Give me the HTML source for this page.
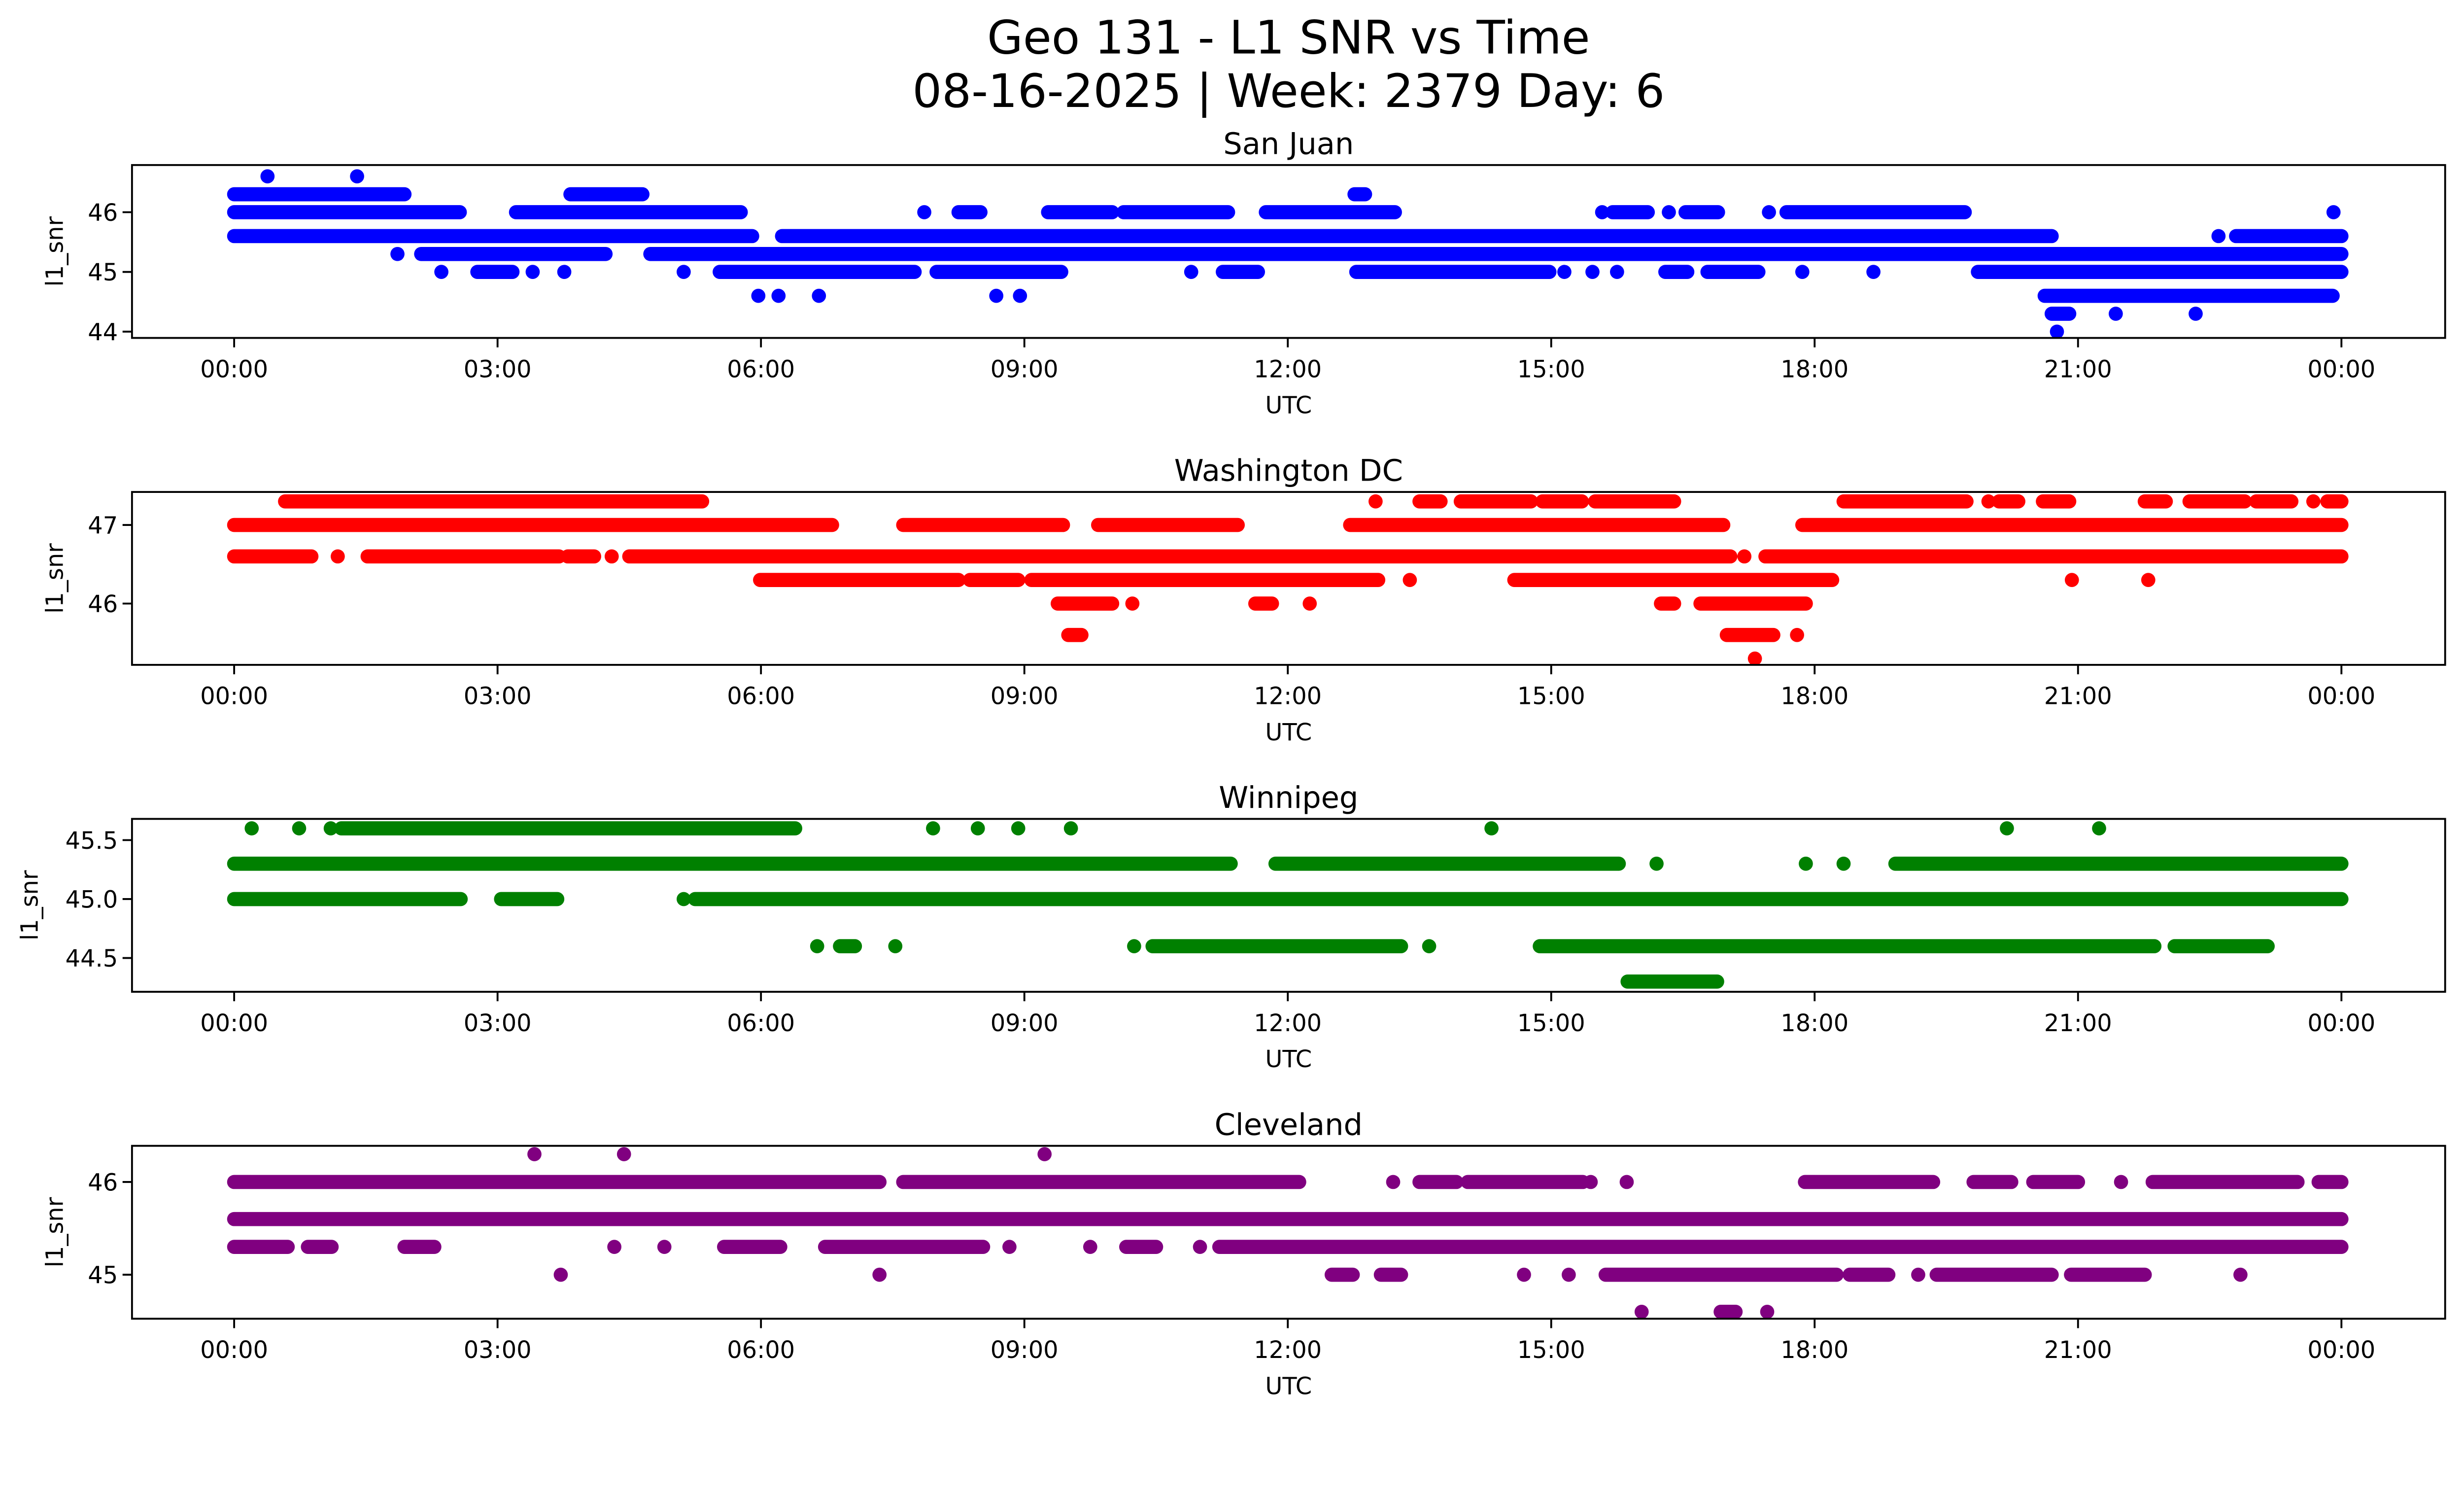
<!DOCTYPE html>
<html><head><meta charset="utf-8"><style>
html,body{margin:0;padding:0;background:#fff;width:100%;height:100%;overflow:hidden}
svg{display:block;position:absolute;left:0;top:0;width:100vw;height:calc(100vw * 901 / 1568)}
text{font-family:"DejaVu Sans","Liberation Sans",sans-serif;fill:#000}
</style></head><body>
<svg id="fig" viewBox="0 0 1568 901" preserveAspectRatio="none" xmlns="http://www.w3.org/2000/svg">
<rect width="1568" height="901" fill="#fff"/>
<text x="820" y="34" font-size="29.5" text-anchor="middle">Geo 131 - L1 SNR vs Time</text>
<text x="820" y="68" font-size="29.5" text-anchor="middle">08-16-2025 | Week: 2379 Day: 6</text>
<g id="plots"></g>
</svg>
<script>
// ---- data (hours UTC, SNR levels) ----
const xTickHours = [0,3,6,9,12,15,18,21,24];
const xTickLabels = ["00:00","03:00","06:00","09:00","12:00","15:00","18:00","21:00","00:00"];

const sjLevels = [46.6,46.3,46.0,45.6,45.3,45.0,44.6,44.3,44.0];
const sjRanges = [
 [[0.38,0.38],[1.40,1.40]],
 [[0,1.94],[3.83,4.65],[12.76,12.88]],
 [[0,2.57],[3.21,5.77],[7.86,7.86],[8.25,8.5],[9.27,10.0],[10.13,11.32],[11.75,13.22],[15.58,15.58],[15.7,16.1],[16.34,16.34],[16.53,16.9],[17.48,17.48],[17.68,19.71],[23.91,23.91]],
 [[0,5.9],[6.24,20.7],[22.6,22.6],[22.8,24]],
 [[1.86,1.86],[2.13,4.23],[4.74,24]],
 [[2.36,2.36],[2.77,3.17],[3.4,3.4],[3.76,3.76],[5.12,5.12],[5.53,7.75],[8.0,9.42],[10.9,10.9],[11.26,11.66],[12.78,14.98],[15.15,15.15],[15.47,15.47],[15.75,15.75],[16.3,16.55],[16.78,17.36],[17.86,17.86],[18.67,18.67],[19.86,24]],
 [[5.97,5.97],[6.2,6.2],[6.66,6.66],[8.68,8.68],[8.95,8.95],[20.62,23.9]],
 [[20.7,20.9],[21.43,21.43],[22.34,22.34]],
 [[20.76,20.76]]
];

const dcLevels = [47.3,47.0,46.6,46.3,46.0,45.6,45.3];
const dcRanges = [
 [[0.58,5.33],[13.0,13.0],[13.5,13.74],[13.97,14.77],[14.9,15.35],[15.5,16.4],[18.33,19.73],[19.98,19.98],[20.1,20.32],[20.6,20.9],[21.76,22.0],[22.27,22.9],[23.03,23.43],[23.68,23.68],[23.84,24]],
 [[0,6.81],[7.62,9.44],[9.84,11.43],[12.71,16.96],[17.86,24]],
 [[0,0.88],[1.18,1.18],[1.52,3.7],[3.8,4.1],[4.3,4.3],[4.5,17.04],[17.2,17.2],[17.44,24]],
 [[5.99,8.25],[8.38,8.93],[9.08,13.03],[13.39,13.39],[14.58,18.2],[20.93,20.93],[21.8,21.8]],
 [[9.38,10.0],[10.23,10.23],[11.63,11.82],[12.25,12.25],[16.25,16.4],[16.7,17.9]],
 [[9.5,9.65],[17.0,17.53],[17.8,17.8]],
 [[17.32,17.32]]
];

const wpgLevels = [45.6,45.3,45.0,44.6,44.3];
const wpgRanges = [
 [[0.2,0.2],[0.74,0.74],[1.1,1.1],[1.22,6.39],[7.96,7.96],[8.47,8.47],[8.93,8.93],[9.53,9.53],[14.32,14.32],[20.19,20.19],[21.24,21.24]],
 [[0,11.35],[11.86,15.77],[16.2,16.2],[17.9,17.9],[18.33,18.33],[18.92,24]],
 [[0,2.58],[3.04,3.68],[5.12,5.12],[5.25,24]],
 [[6.64,6.64],[6.9,7.07],[7.53,7.53],[10.25,10.25],[10.46,13.29],[13.61,13.61],[14.87,21.87],[22.1,23.16]],
 [[15.87,16.89]]
];

const cleLevels = [46.3,46.0,45.6,45.3,45.0,44.6];
const cleRanges = [
 [[3.42,3.42],[4.44,4.44],[9.23,9.23]],
 [[0,7.35],[7.62,12.13],[13.2,13.2],[13.5,13.92],[14.05,15.36],[15.45,15.45],[15.86,15.86],[17.89,19.35],[19.81,20.24],[20.49,21.0],[21.49,21.49],[21.85,23.5],[23.74,24]],
 [[0,24]],
 [[0,0.61],[0.84,1.11],[1.94,2.28],[4.33,4.33],[4.9,4.9],[5.58,6.22],[6.73,8.53],[8.83,8.83],[9.75,9.75],[10.16,10.5],[11.0,11.0],[11.22,24]],
 [[3.72,3.72],[7.35,7.35],[12.5,12.74],[13.06,13.29],[14.69,14.69],[15.2,15.2],[15.62,18.25],[18.4,18.84],[19.18,19.18],[19.39,20.7],[20.92,21.76],[22.85,22.85]],
 [[16.03,16.03],[16.93,17.1],[17.46,17.46]]
];

const panelTitles = ["San Juan","Washington DC","Winnipeg","Cleveland"];
const yTicksSJ = [44,45,46];
const yTicksDC = [46,47];
const yTicksWPG = [44.5,45.0,45.5];
const yTicksCLE = [45,46];

// ---- layout ----
const NS="http://www.w3.org/2000/svg";
const plots=document.getElementById('plots');
const X0=84, X1=1556, T0=149, T24=1490;
function xScale(h){return T0+(T24-T0)*h/24;}
function mk(tag,attrs,parent){const e=document.createElementNS(NS,tag);for(const k in attrs)e.setAttribute(k,attrs[k]);parent.appendChild(e);return e;}

const panels=[
 {name:"san-juan",color:"#0000ff",top:105,ref:46,refY:135,ppu:38,levels:sjLevels,ranges:sjRanges,ticks:yTicksSJ,fmt:v=>String(v),ylx:40},
 {name:"washington-dc",color:"#ff0000",top:313,ref:47,refY:334,ppu:50,levels:dcLevels,ranges:dcRanges,ticks:yTicksDC,fmt:v=>String(v),ylx:40},
 {name:"winnipeg",color:"#008000",top:521,ref:45,refY:572,ppu:75,levels:wpgLevels,ranges:wpgRanges,ticks:yTicksWPG,fmt:v=>v.toFixed(1),ylx:24},
 {name:"cleveland",color:"#800080",top:729,ref:46,refY:752,ppu:59,levels:cleLevels,ranges:cleRanges,ticks:yTicksCLE,fmt:v=>String(v),ylx:40}
];

panels.forEach((p,i)=>{
  const g=mk('g',{},plots);
  
  
  const H=110, bot=p.top+H;
  const yS=v=>p.refY-(v-p.ref)*p.ppu;
  const clipId='clip'+i;
  const cp=mk('clipPath',{id:clipId},g);
  mk('rect',{x:X0,y:p.top,width:X1-X0,height:H},cp);
  const marks=mk('g',{'clip-path':'url(#'+clipId+')'},g);
  
  
  p.levels.forEach((lv,li)=>{
    p.ranges[li].forEach(r=>{
      const ln=mk('line',{x1:xScale(r[0]),x2:xScale(r[1]),y1:yS(lv),y2:yS(lv),stroke:p.color,'stroke-width':9,'stroke-linecap':'round'},marks);
      
      
    });
  });
  const frame=mk('rect',{x:X0,y:p.top,width:X1-X0,height:H,fill:'none',stroke:'#000','stroke-width':1.2},g);
  
  
  xTickHours.forEach((h,k)=>{
    const x=xScale(h);
    mk('line',{x1:x,x2:x,y1:bot,y2:bot+6,stroke:'#000','stroke-width':1.2},g);
    const t=mk('text',{x:x,y:bot+25,'font-size':15,'text-anchor':'middle'},g);
    t.textContent=xTickLabels[k];
    
    
  });
  p.ticks.forEach(v=>{
    const y=yS(v);
    mk('line',{x1:X0-6,x2:X0,y1:y,y2:y,stroke:'#000','stroke-width':1.2},g);
    const t=mk('text',{x:X0-9,y:y+5.5,'font-size':15,'text-anchor':'end'},g);
    t.textContent=p.fmt(v);
    
    
  });
  const tt=mk('text',{x:820,y:p.top-7,'font-size':19,'text-anchor':'middle'},g);
  tt.textContent=panelTitles[i];
  
  
  const xl=mk('text',{x:820,y:bot+48,'font-size':15,'text-anchor':'middle'},g);
  xl.textContent="UTC";
  
  
  const yc=p.top+H/2;
  const yl=mk('text',{x:p.ylx,y:yc,'font-size':15,'text-anchor':'middle',transform:'rotate(-90 '+p.ylx+' '+yc+')'},g);
  yl.textContent="l1_snr";
  
  
});
</script>
</body></html>
